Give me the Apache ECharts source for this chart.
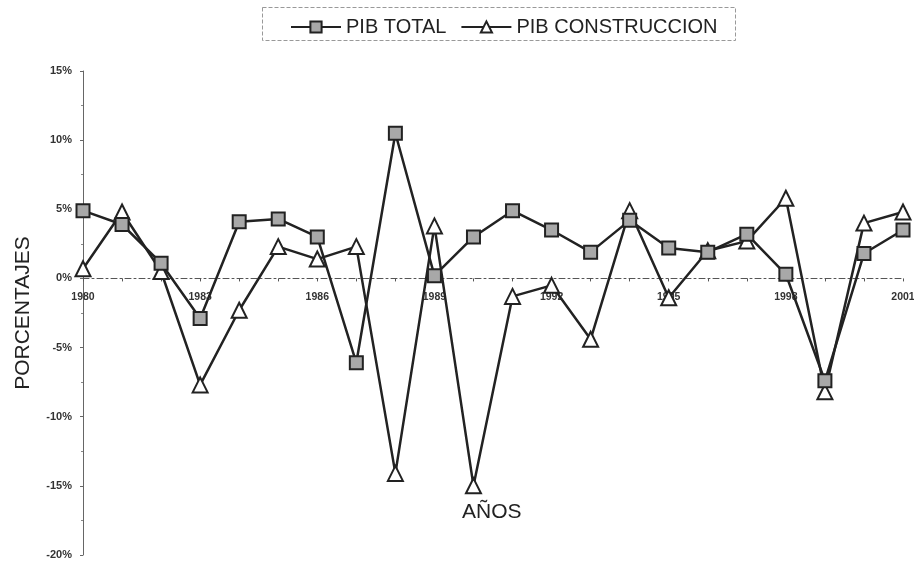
<!DOCTYPE html>
<html>
<head>
<meta charset="utf-8">
<script src="https://cdn.jsdelivr.net/npm/echarts@6/dist/echarts.min.js"></script>
<style>
  html, body { margin: 0; padding: 0; background: #fff; }
  #chart { width: 914px; height: 562px; }
</style>
</head>
<body>
<div id="chart"></div>
<script>
const years = [
  "1980", "1981", "1982", "1983", "1984", "1985", "1986", "1987", "1988", "1989", "1990",
  "1991", "1992", "1993", "1994", "1995", "1996", "1997", "1998", "1999", "2000", "2001"
];
const pibTotal = [4.9, 3.9, 1.1, -2.9, 4.1, 4.3, 3.0, -6.1, 10.5, 0.2, 3.0,
  4.9, 3.5, 1.9, 4.2, 2.2, 1.9, 3.2, 0.3, -7.4, 1.8, 3.5];
const pibConstruccion = [0.7, 4.8, 0.5, -7.7, -2.3, 2.3, 1.4, 2.3, -14.1, 3.8, -15.0,
  -1.3, -0.5, -4.4, 4.9, -1.4, 2.0, 2.7, 5.8, -8.2, 4.0, 4.8];
const yTicks = [-20, -15, -10, -5, 0, 5, 10, 15];

const ink = "#222";
const gridTop = 71, gridBottom = 7, chartH = 562;
// x axis sits on the 0% line, labels included
const plotH = chartH - gridTop - gridBottom;
const yMin = yTicks[0], yMax = yTicks[yTicks.length - 1];
const zeroOffset = -plotH * (0 - yMin) / (yMax - yMin);

const chart = echarts.init(document.getElementById("chart"));

chart.setOption({
  animation: false,
  backgroundColor: "#fff",
  textStyle: { fontFamily: "Liberation Sans, Arial, sans-serif" },
  legend: {
    left: 285,
    top: 12,
    itemWidth: 50,
    itemHeight: 14,
    itemGap: 14,
    textStyle: { fontSize: 20, color: "#222", fontFamily: "Liberation Sans" },
    data: ["PIB TOTAL", "PIB CONSTRUCCION"]
  },
  grid: { left: 83, right: 11, top: gridTop, bottom: gridBottom, outerBoundsMode: "none" },
  xAxis: {
    type: "category",
    data: years,
    boundaryGap: false,
    offset: zeroOffset,
    axisLine: { onZero: false, lineStyle: { color: "#555", width: 1, type: [6, 3, 2, 3] } },
    axisTick: { show: true, interval: 0, length: 3, lineStyle: { color: "#555" } },
    axisLabel: {
      interval: 2,
      fontSize: 10.5,
      color: "#333",
      margin: 13,
      fontWeight: "bold"
    },
    splitLine: { show: false }
  },
  yAxis: {
    type: "value",
    min: yMin,
    max: yMax,
    interval: 5,
    name: "PORCENTAJES",
    nameLocation: "middle",
    nameRotate: 90,
    nameGap: 49,
    nameTextStyle: { fontSize: 21, color: "#222", fontFamily: "Liberation Sans" },
    axisLine: { show: true, lineStyle: { color: "#666", width: 1 } },
    axisTick: { show: true, length: 3, lineStyle: { color: "#666" } },
    minorTick: { show: true, splitNumber: 2, length: 2, lineStyle: { color: "#888" } },
    axisLabel: {
      formatter: "{value}%",
      fontSize: 11,
      fontWeight: "bold",
      color: "#333",
      margin: 11
    },
    splitLine: { show: false }
  },
  graphic: [
    {
      type: "rect",
      shape: { x: 262.5, y: 7.5, width: 473, height: 33 },
      style: { fill: "none", stroke: "#999", lineWidth: 1, lineDash: [4, 2] },
      silent: true
    },
    {
      type: "text",
      left: 462,
      top: 502,
      style: { text: "AÑOS", fontSize: 21, fill: "#222", fontFamily: "Liberation Sans" }
    }
  ],
  series: [
    {
      name: "PIB TOTAL",
      type: "line",
      data: pibTotal,
      symbol: "rect",
      symbolSize: 13,
      lineStyle: { color: ink, width: 2.5 },
      itemStyle: { color: "#a8a8a8", borderColor: ink, borderWidth: 2 },
      z: 3
    },
    {
      name: "PIB CONSTRUCCION",
      type: "line",
      data: pibConstruccion,
      symbol: "triangle",
      symbolSize: 15,
      lineStyle: { color: ink, width: 2.5 },
      itemStyle: { color: "#fff", borderColor: ink, borderWidth: 2 },
      z: 2
    }
  ]
});
</script>
</body>
</html>
